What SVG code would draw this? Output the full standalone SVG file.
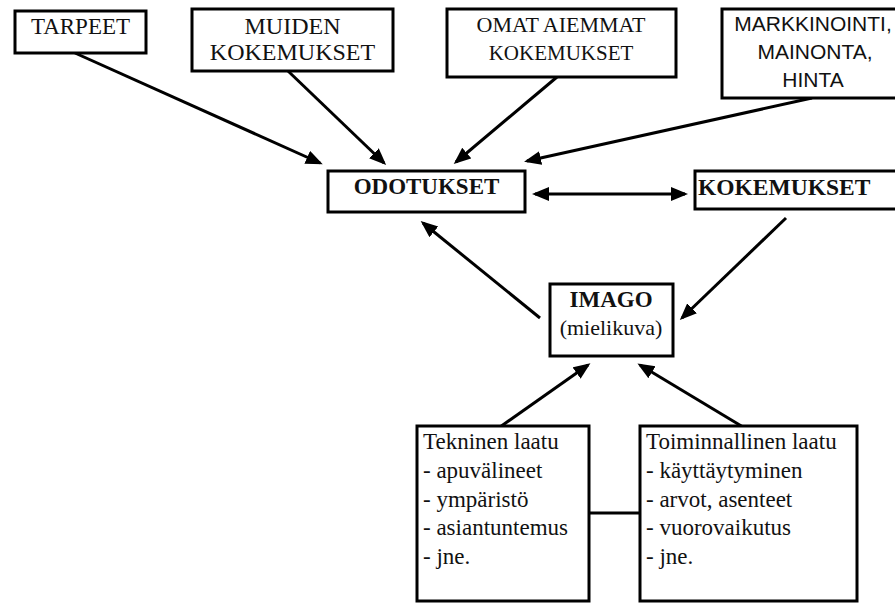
<svg xmlns="http://www.w3.org/2000/svg" width="895" height="603" viewBox="0 0 895 603">
<style>
.box{fill:#fff;stroke:#000;stroke-width:3}
.serif{font-family:"Liberation Serif","Times New Roman",serif;fill:#111}
.sans{font-family:"Liberation Sans",Arial,sans-serif;fill:#111}
.b{font-weight:bold}
.c{text-anchor:middle}
.ln{stroke:#000;stroke-width:3;fill:none}
.arr{marker-end:url(#ah)}
</style>
<defs>
<marker id="ah" markerUnits="userSpaceOnUse" markerWidth="17" markerHeight="15" refX="14" refY="7" orient="auto-start-reverse" viewBox="0 0 17 15">
<path d="M0,0 L17,7 L0,14 z" fill="#000"/>
</marker>
</defs>
<g id="connectors">
<line class="ln arr" x1="75" y1="53" x2="320" y2="163"/>
<line class="ln arr" x1="288" y1="71" x2="384" y2="163"/>
<line class="ln arr" x1="557" y1="77" x2="456" y2="162"/>
<line class="ln arr" x1="812" y1="98" x2="527" y2="161"/>
<line class="ln arr" x1="540" y1="318" x2="423" y2="223"/>
<line class="ln arr" x1="786" y1="218" x2="682" y2="318"/>
<line class="ln arr" x1="500" y1="427" x2="588" y2="365"/>
<line class="ln arr" x1="743" y1="427" x2="640" y2="365"/>
<line class="ln" x1="535" y1="194" x2="685" y2="194" marker-start="url(#ah)" marker-end="url(#ah)"/>
<line class="ln" x1="589" y1="513" x2="640" y2="513"/>
</g>
<g id="tarpeet">
<rect class="box" x="15" y="11" width="131" height="42"/>
<text class="serif c" x="80.5" y="34" font-size="23">TARPEET</text>
</g>
<g id="muiden">
<rect class="box" x="192" y="9" width="201" height="62"/>
<text class="serif c" x="292.5" y="34" font-size="24">MUIDEN</text>
<text class="serif c" x="292.5" y="60" font-size="24">KOKEMUKSET</text>
</g>
<g id="omat">
<rect class="box" x="447" y="9" width="229" height="68"/>
<text class="serif c" x="561" y="32" font-size="22">OMAT AIEMMAT</text>
<text class="serif c" x="561" y="60" font-size="21">KOKEMUKSET</text>
</g>
<g id="markkinointi">
<rect class="box" x="722" y="9" width="180" height="89"/>
<text class="sans c" x="813" y="31" font-size="21">MARKKINOINTI,</text>
<text class="sans c" x="815" y="59" font-size="21">MAINONTA,</text>
<text class="sans c" x="813" y="87" font-size="21">HINTA</text>
</g>
<g id="odotukset">
<rect class="box" x="328" y="171" width="197" height="41"/>
<text class="serif b c" x="426.5" y="194" font-size="23">ODOTUKSET</text>
</g>
<g id="kokemukset">
<rect class="box" x="695" y="171" width="210" height="38"/>
<text class="serif b" x="698" y="195" font-size="23.5">KOKEMUKSET</text>
</g>
<g id="imago">
<rect class="box" x="550" y="284" width="123" height="72"/>
<text class="serif b c" x="611" y="307" font-size="23">IMAGO</text>
<text class="serif c" x="611" y="335" font-size="22">(mielikuva)</text>
</g>
<g id="tekninen">
<rect class="box" x="417" y="426" width="172" height="175"/>
<text class="serif" font-size="23">
<tspan x="423" y="449">Tekninen laatu</tspan>
<tspan x="423" y="478">- apuvälineet</tspan>
<tspan x="423" y="507">- ympäristö</tspan>
<tspan x="423" y="535">- asiantuntemus</tspan>
<tspan x="423" y="564">- jne.</tspan>
</text>
</g>
<g id="toiminnallinen">
<rect class="box" x="640" y="426" width="217" height="175"/>
<text class="serif" font-size="23">
<tspan x="646" y="449">Toiminnallinen laatu</tspan>
<tspan x="646" y="478">- käyttäytyminen</tspan>
<tspan x="646" y="507">- arvot, asenteet</tspan>
<tspan x="646" y="535">- vuorovaikutus</tspan>
<tspan x="646" y="564">- jne.</tspan>
</text>
</g>
</svg>
